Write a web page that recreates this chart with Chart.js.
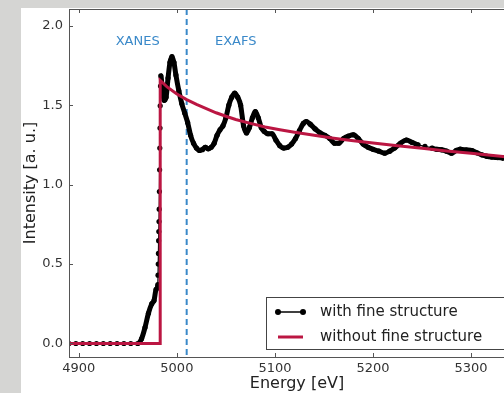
<!DOCTYPE html>
<html>
<head>
<meta charset="utf-8">
<script src="https://cdn.jsdelivr.net/npm/chart.js@4.4.0/dist/chart.umd.min.js"></script>
<style>
  html, body { margin: 0; padding: 0; width: 504px; height: 393px; overflow: hidden; background: #d5d5d3; }
  #sheet { position: absolute; left: 21px; top: 8px; width: 540px; height: 385px; background: #fff; }
  #xas { position: absolute; left: 21px; top: 5px; }
</style>
</head>
<body>
<div id="sheet"></div>
<canvas id="xas" width="540" height="388"></canvas>
<script>
// Spectrum with fine structure (black, dots + line)
const fineEnergy = [
  4890, 4897, 4904, 4911, 4918, 4925, 4932, 4939, 4946, 4953, 4960,
  4964, 4967.5, 4971, 4974.4, 4976.7, 4978.8,
  4980.6, 4980.8, 4981.0, 4981.2, 4981.4, 4981.6, 4981.8, 4982.0, 4982.2, 4982.4, 4982.6, 4982.8, 4983.0, 4983.3, 4983.6,
  4985, 4987, 4989, 4991, 4993, 4995, 4997, 4999, 5002, 5005, 5008, 5011, 5014, 5017, 5020, 5023, 5026, 5029, 5032, 5035,
  5038, 5041, 5044, 5047, 5050, 5053, 5056, 5059, 5062, 5065, 5068, 5071, 5074, 5077, 5080, 5083, 5086, 5089, 5093, 5097,
  5101, 5105, 5109, 5113, 5117, 5121, 5125, 5129, 5132, 5136, 5141, 5146, 5151, 5156, 5161, 5165, 5170, 5175, 5180, 5185,
  5190, 5195, 5200, 5206, 5212, 5217, 5222, 5228, 5234, 5240, 5246, 5253, 5260, 5265, 5270, 5275, 5280, 5285, 5289, 5295,
  5301, 5306, 5311, 5316, 5321, 5327, 5333, 5340, 5348, 5355
];
const fineIntensity = [
  0, 0, 0, 0, 0, 0, 0, 0, 0, 0, 0,
  0.03, 0.10, 0.19, 0.25, 0.27, 0.34,
  0.37, 0.43, 0.50, 0.567, 0.647, 0.704, 0.767, 0.845, 0.956, 1.093, 1.23, 1.356, 1.496, 1.62, 1.685,
  1.62, 1.53, 1.55, 1.67, 1.77, 1.805, 1.77, 1.69, 1.59, 1.51, 1.45, 1.39, 1.31, 1.26, 1.23, 1.215, 1.22, 1.235, 1.225, 1.235,
  1.26, 1.31, 1.345, 1.37, 1.42, 1.50, 1.55, 1.575, 1.55, 1.50, 1.37, 1.325, 1.36, 1.42, 1.46, 1.42, 1.36, 1.335, 1.32, 1.32,
  1.28, 1.245, 1.23, 1.235, 1.255, 1.29, 1.34, 1.385, 1.397, 1.38, 1.35, 1.325, 1.31, 1.29, 1.26, 1.26, 1.29, 1.305, 1.313, 1.29,
  1.255, 1.235, 1.222, 1.21, 1.198, 1.21, 1.23, 1.26, 1.28, 1.265, 1.25, 1.24, 1.23, 1.222, 1.219, 1.21, 1.198, 1.215, 1.223, 1.218,
  1.214, 1.20, 1.187, 1.178, 1.173, 1.17, 1.166, 1.16, 1.156, 1.152
];

// Smooth step edge without fine structure (red)
const smoothEnergy = [4890, 4983, 4983, 4990, 5000, 5010, 5020, 5030, 5040, 5050, 5060, 5075, 5090, 5105, 5120,
  5140, 5160, 5180, 5200, 5225, 5250, 5275, 5300, 5325, 5355];
const smoothIntensity = [0, 0, 1.655, 1.615, 1.570, 1.535, 1.505, 1.478, 1.452, 1.430, 1.410, 1.385, 1.362, 1.345, 1.330,
  1.310, 1.292, 1.276, 1.262, 1.245, 1.228, 1.212, 1.197, 1.181, 1.163];

const seriesNames = ['with fine structure', 'without fine structure'];
const xTickValues = [4900, 5000, 5100, 5200, 5300];
const yTickValues = [0, 0.5, 1, 1.5, 2];
const regionLabels = ['XANES', 'EXAFS'];
const regionLabelEnergy = [4960, 5060];
const regionLabelIntensity = 1.9;
const edgeSplitEnergy = 5010;

const BLACK = '#000000';
const RED = '#bb1642';
const BLUE = '#3a89c9';
const AXIS = '#555555';

Chart.defaults.font.family = '"DejaVu Sans", sans-serif';

// frame, inward ticks, dashed XANES/EXAFS split, labels and legend
const decorations = {
  id: 'decorations',
  beforeDatasetsDraw(chart) {
    const { ctx, chartArea: a, scales: { x, y } } = chart;
    ctx.save();
    const ex = x.getPixelForValue(edgeSplitEnergy);
    ctx.strokeStyle = BLUE;
    ctx.lineWidth = 2;
    ctx.setLineDash([6, 4]);
    ctx.beginPath();
    ctx.moveTo(ex, a.top);
    ctx.lineTo(ex, a.bottom);
    ctx.stroke();
    ctx.setLineDash([]);
    ctx.fillStyle = BLUE;
    ctx.font = '13px "DejaVu Sans"';
    ctx.textAlign = 'center';
    ctx.textBaseline = 'middle';
    regionLabels.forEach((t, i) => {
      ctx.fillText(t, x.getPixelForValue(regionLabelEnergy[i]), y.getPixelForValue(regionLabelIntensity));
    });
    ctx.restore();
  },
  afterDatasetsDraw(chart) {
    const { ctx, chartArea: a, scales: { x, y } } = chart;
    ctx.save();
    ctx.strokeStyle = AXIS;
    ctx.lineWidth = 1;
    ctx.strokeRect(Math.round(a.left) + 0.5, Math.round(a.top) + 0.5, a.right - a.left, a.bottom - a.top);
    ctx.beginPath();
    xTickValues.forEach(v => {
      const px = Math.round(x.getPixelForValue(v)) + 0.5;
      ctx.moveTo(px, a.top); ctx.lineTo(px, a.top + 4);
      ctx.moveTo(px, a.bottom); ctx.lineTo(px, a.bottom - 4);
    });
    yTickValues.forEach(v => {
      const py = Math.round(y.getPixelForValue(v)) + 0.5;
      ctx.moveTo(a.left, py); ctx.lineTo(a.left + 4, py);
      ctx.moveTo(a.right, py); ctx.lineTo(a.right - 4, py);
    });
    ctx.stroke();

    // legend, anchored to the lower right of the plot area
    const bx = a.left + 197, by = a.bottom - 60, bw = 260, bh = 52;
    ctx.fillStyle = '#fff';
    ctx.fillRect(bx, by, bw, bh);
    ctx.strokeStyle = '#444';
    ctx.strokeRect(Math.round(bx) + 0.5, Math.round(by) + 0.5, bw, bh);
    const rows = [by + 15, by + 40];
    const lx0 = bx + 12, lx1 = bx + 37;
    ctx.strokeStyle = BLACK;
    ctx.lineWidth = 1.5;
    ctx.beginPath();
    ctx.moveTo(lx0, rows[0]); ctx.lineTo(lx1, rows[0]);
    ctx.stroke();
    ctx.fillStyle = BLACK;
    [lx0, lx1].forEach(px => { ctx.beginPath(); ctx.arc(px, rows[0], 3, 0, Math.PI * 2); ctx.fill(); });
    ctx.strokeStyle = RED;
    ctx.lineWidth = 3;
    ctx.beginPath();
    ctx.moveTo(lx0, rows[1]); ctx.lineTo(lx1, rows[1]);
    ctx.stroke();
    ctx.fillStyle = '#222';
    ctx.font = '15px "DejaVu Sans"';
    ctx.textAlign = 'left';
    ctx.textBaseline = 'middle';
    seriesNames.forEach((t, i) => ctx.fillText(t, bx + 54, rows[i]));
    ctx.restore();
  }
};

new Chart(document.getElementById('xas'), {
  type: 'line',
  data: {
    datasets: [
      {
        label: seriesNames[0],
        data: fineEnergy.map((e, i) => ({ x: e, y: fineIntensity[i] })),
        borderColor: BLACK,
        backgroundColor: BLACK,
        pointBackgroundColor: BLACK,
        borderWidth: 5,
        pointRadius: 2.6,
        pointBorderWidth: 0,
        cubicInterpolationMode: 'monotone',
        order: 2,
        segment: {
          // sparse stretches (pre-edge, the jump) show a thin line between dots
          borderWidth: c => {
            const dx = c.p1.parsed.x - c.p0.parsed.x;
            return (dx < 0.5 || dx > 6) ? 1.3 : 5;
          }
        }
      },
      {
        label: seriesNames[1],
        data: smoothEnergy.map((e, i) => ({ x: e, y: smoothIntensity[i] })),
        borderColor: RED,
        borderWidth: 3,
        pointRadius: 0,
        tension: 0,
        order: 1
      }
    ]
  },
  options: {
    responsive: false,
    animation: false,
    layout: { padding: { top: 1, right: 36, left: 0, bottom: 0 } },
    plugins: { legend: { display: false }, tooltip: { enabled: false } },
    scales: {
      x: {
        type: 'linear',
        min: 4890,
        max: 5355,
        grid: { display: false, drawTicks: false },
        border: { display: false },
        afterBuildTicks: s => { s.ticks = xTickValues.map(v => ({ value: v })); },
        afterFit: s => { s.height = 36; s.paddingLeft = 0; s.paddingRight = 0; },
        ticks: { padding: 4, color: '#333', font: { size: 13 }, maxRotation: 0, autoSkip: false, callback: v => String(v) },
        title: { display: true, text: 'Energy [eV]', color: '#222', font: { size: 16 }, padding: 0 }
      },
      y: {
        type: 'linear',
        min: -0.085,
        max: 2.105,
        grid: { display: false, drawTicks: false },
        border: { display: false },
        afterBuildTicks: s => { s.ticks = yTickValues.map(v => ({ value: v })); },
        afterFit: s => { s.width = 48; s.paddingTop = 0; s.paddingBottom = 0; },
        ticks: { padding: 6, color: '#333', font: { size: 13 }, callback: v => v.toFixed(1) },
        title: { display: true, text: 'Intensity [a. u.]', color: '#222', font: { size: 16 }, padding: 0 }
      }
    }
  },
  plugins: [decorations]
});
</script>
</body>
</html>
